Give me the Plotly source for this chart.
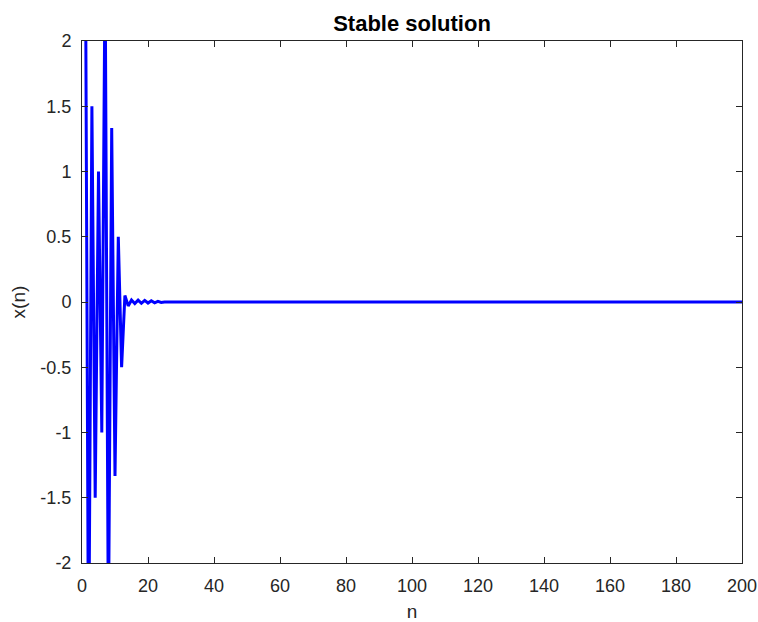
import plotly.graph_objects as go

n = list(range(1, 201))
head = [3.0, -3.0, 1.5, -1.5, 1.0, -1.0, 2.6, -2.6, 1.333, -1.333, 0.5, -0.5,
        0.05, -0.03, 0.015, -0.012, 0.014, -0.01, 0.012, -0.008, 0.01, -0.006, 0.005, -0.003]
x_vals = head + [0.0] * (200 - len(head))

FONT = "Liberation Sans, Arial, Helvetica"
fig = go.Figure()
fig.add_trace(go.Scatter(x=n, y=x_vals, mode="lines",
                         line=dict(color="#0000ff", width=3), cliponaxis=True))

axis_common = dict(showgrid=False, zeroline=False, showline=True, mirror="ticks",
                   linecolor="#262626", linewidth=1, ticks="inside", ticklen=6,
                   tickcolor="#262626", automargin=False,
                   tickfont=dict(family=FONT, size=18, color="#262626"))

fig.update_layout(
    width=758, height=622,
    margin=dict(l=82, r=16, t=41, b=59),
    plot_bgcolor="white", paper_bgcolor="white",
    showlegend=False,
    title=dict(text="<b>Stable solution</b>", x=0.5, xanchor="center", xref="paper",
               y=1, yref="paper", yanchor="bottom", pad=dict(b=10),
               font=dict(family=FONT, size=22, color="black")),
    xaxis=dict(range=[0, 200], tickvals=list(range(0, 201, 20)), ticklabelstandoff=6,
               title=dict(text="n", font=dict(family=FONT, size=19, color="#262626"), standoff=10),
               **axis_common),
    yaxis=dict(range=[-2, 2], tickvals=[-2, -1.5, -1, -0.5, 0, 0.5, 1, 1.5, 2],
               ticktext=["-2", "-1.5", "-1", "-0.5", "0", "0.5", "1", "1.5", "2"],
               ticklabelstandoff=6,
               title=dict(text="x(n)", font=dict(family=FONT, size=19, color="#262626"), standoff=9),
               **axis_common),
)
fig.write_html("out.html", config={"displayModeBar": False},
               post_script="document.body.style.margin='0';document.body.style.overflow='hidden';")
